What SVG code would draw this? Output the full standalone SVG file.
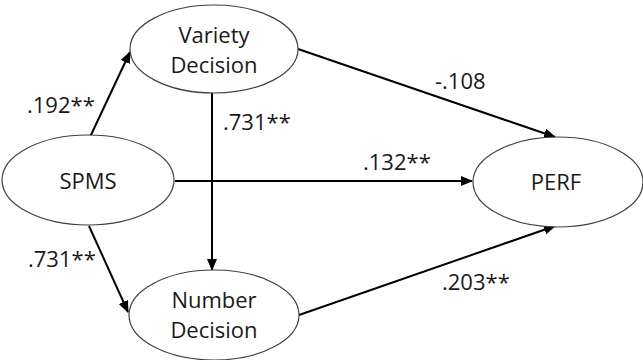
<svg xmlns="http://www.w3.org/2000/svg" width="643" height="360" viewBox="0 0 643 360">
<style>
.node{fill:#fff;stroke:#404040;stroke-width:1.2}
.t{font-family:"Open Sans","Liberation Sans",sans-serif;font-size:22px;fill:#1a1a1a;text-anchor:middle}
.l{font-family:"Open Sans","Liberation Sans",sans-serif;font-size:22px;fill:#1a1a1a}
.c{stroke:#000;stroke-width:2;fill:none;marker-end:url(#ah)}
</style>
<defs>
<marker id="ah" viewBox="0 0 12 10" refX="11" refY="5" markerWidth="12" markerHeight="10" markerUnits="userSpaceOnUse" orient="auto">
<path d="M0,0 L12,5 L0,10 Z" fill="#000"/>
</marker>
</defs>
<rect width="643" height="360" fill="#fff"/>
<g id="connectors">
<line class="c" x1="90" y1="137" x2="130" y2="52"/>
<line class="c" x1="89" y1="226" x2="128" y2="312"/>
<line class="c" x1="212" y1="93" x2="212" y2="270"/>
<line class="c" x1="175" y1="181" x2="472" y2="181"/>
<line class="c" x1="298" y1="49" x2="555" y2="137"/>
<line class="c" x1="299" y1="315" x2="555" y2="226"/>
</g>
<g id="variety"><ellipse class="node" cx="214" cy="49" rx="84" ry="44"/><text class="t" x="214" y="43">Variety</text><text class="t" x="214" y="73">Decision</text></g>
<g id="spms"><ellipse class="node" cx="88" cy="180" rx="86" ry="45"/><text class="t" x="88" y="189">SPMS</text></g>
<g id="number"><ellipse class="node" cx="214" cy="315" rx="85" ry="45"/><text class="t" x="214" y="308">Number</text><text class="t" x="214" y="338">Decision</text></g>
<g id="perf"><ellipse class="node" cx="558" cy="182" rx="85" ry="45"/><text class="t" x="556" y="190">PERF</text></g>
<g id="labels">
<text class="l" x="27" y="113">.192**</text>
<text class="l" x="223" y="130">.731**</text>
<text class="l" x="28" y="267">.731**</text>
<text class="l" x="435" y="89">-.108</text>
<text class="l" x="363" y="170">.132**</text>
<text class="l" x="442" y="290">.203**</text>
</g>
</svg>
